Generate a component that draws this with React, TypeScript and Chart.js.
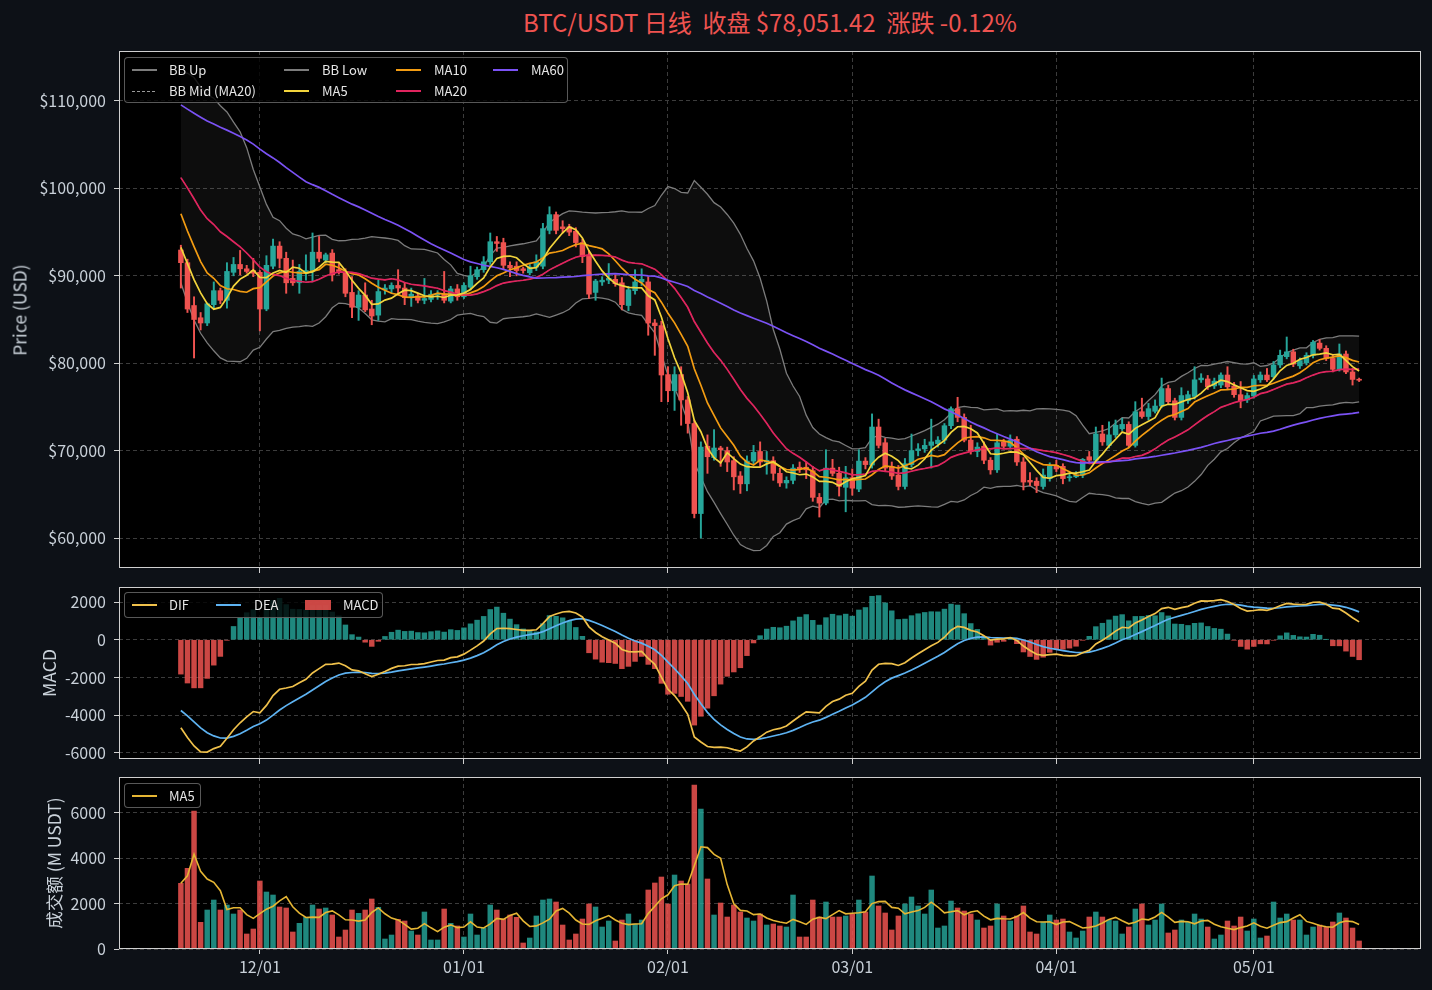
import React, { useEffect, useRef } from "react";
import { Chart, registerables } from "chart.js";
Chart.register(...registerables);

// ---------------- DATA ----------------
// daily closes before the visible window (2025-09-20 .. 2025-11-18), in thousand USD, used for indicator warm-up
const preCloseK = [
  115.7, 115.3, 112.7, 112.0, 113.3, 109.0, 109.7, 109.7, 112.1, 114.4, 114.1,
  118.6, 120.6, 122.3, 122.4, 123.5, 124.7, 121.4, 123.3, 121.7, 113.2, 110.6, 115.2, 115.3, 113.1, 110.8,
  108.2, 106.4, 107.2, 108.6, 110.6, 108.5, 107.6, 110.1, 111.0, 111.6, 114.5, 114.1, 112.9, 110.0, 108.3, 109.5,
  110.0, 110.6, 106.5, 101.5, 103.9, 101.3, 103.3, 102.3, 104.7, 105.9, 103.0, 101.6, 99.7, 94.5, 95.5, 94.2,
  92.2, 92.9,
];

// visible window starts 2025-11-19 (thousand USD)
const openK = [
  92.95, 91.5, 86.6, 85.2, 84.6, 86.7, 88.3, 87.2, 90.4, 91.3, 90.8, 90.6, 90.4, 86.2, 91.1, 93.4, 92.0, 89.7, 89.2, 90.3,
  90.5, 92.7, 91.8, 92.6, 90.7, 90.3, 88.1, 86.4, 87.8, 86.2, 85.5, 88.4, 88.5, 88.9, 88.6, 87.5, 87.7, 87.2, 87.3, 87.8,
  87.9, 87.1, 88.5, 87.6, 88.7, 89.9, 90.7, 91.6, 93.9, 93.8, 91.2, 91.1, 90.8, 90.35, 91.0, 91.1, 95.2, 97.0, 95.6, 95.6,
  95.1, 93.8, 92.4, 88.1, 89.3, 89.5, 89.6, 89.2, 86.6, 88.3, 89.3, 89.3, 84.6, 84.3, 78.7, 76.85, 78.7, 75.8, 73.1, 62.8,
  70.5, 69.2, 70.3, 70.0, 68.85, 67.1, 66.2, 68.8, 69.9, 68.7, 68.85, 67.4, 66.3, 66.6, 68.1, 68.1, 67.7, 64.65, 64.0, 68.0,
  67.4, 65.8, 66.9, 65.6, 68.8, 68.35, 72.7, 70.9, 68.2, 67.2, 65.9, 68.4, 70.0, 70.2, 70.6, 70.8, 71.2, 72.85, 74.8, 73.8,
  71.2, 69.9, 70.5, 68.9, 67.8, 71.0, 70.5, 71.3, 68.7, 66.6, 66.5, 65.9, 66.8, 68.3, 68.2, 66.9, 67.0, 67.2, 69.3, 68.9,
  71.9, 70.6, 71.8, 72.5, 73.0, 70.6, 74.45, 73.9, 74.5, 75.1, 77.1, 75.7, 73.8, 75.7, 76.2, 78.1, 78.2, 77.4, 77.5, 78.65,
  77.4, 76.4, 75.8, 76.25, 78.1, 78.65, 78.45, 79.8, 80.75, 81.3, 79.7, 80.05, 80.9, 82.3, 81.7, 80.55, 79.3, 81.05, 79.0, 78.145,
];
const highK = [
  93.5, 91.9, 87.6, 85.8, 86.9, 89.3, 88.6, 91.5, 92.1, 92.9, 91.2, 92.0, 90.6, 92.3, 94.2, 93.9, 92.7, 91.8, 91.3, 92.4,
  94.9, 94.5, 92.6, 93.0, 91.4, 90.8, 89.9, 88.3, 89.2, 87.2, 89.5, 89.0, 89.2, 90.7, 89.2, 88.6, 88.0, 89.7, 88.3, 88.3,
  90.5, 88.8, 89.0, 89.2, 91.1, 91.0, 92.2, 94.9, 94.5, 94.3, 91.6, 91.6, 91.0, 91.3, 92.4, 96.0, 97.9, 97.3, 96.3, 95.9,
  95.5, 94.2, 92.9, 89.6, 89.9, 91.4, 90.1, 89.8, 88.8, 90.7, 90.8, 89.9, 85.0, 84.8, 79.6, 79.6, 79.6, 76.2, 73.5, 71.0,
  71.8, 72.4, 70.5, 70.4, 69.3, 67.6, 69.4, 70.6, 71.0, 69.9, 69.3, 68.0, 67.0, 68.4, 68.7, 68.7, 68.2, 65.1, 70.1, 69.0,
  68.1, 68.2, 67.9, 70.1, 69.2, 74.2, 73.6, 71.4, 68.7, 68.3, 69.1, 71.9, 70.8, 71.3, 73.6, 71.6, 73.1, 75.0, 76.1, 74.2,
  72.9, 70.9, 71.0, 69.2, 71.9, 71.3, 71.8, 71.6, 69.2, 67.5, 66.9, 67.9, 68.6, 68.9, 68.5, 67.4, 67.6, 69.1, 69.9, 72.7,
  72.9, 73.3, 73.5, 73.7, 73.3, 75.6, 76.0, 75.4, 75.8, 78.3, 77.5, 76.0, 77.2, 76.8, 79.6, 78.8, 78.6, 78.3, 78.9, 79.6,
  77.8, 77.9, 76.6, 78.6, 79.0, 79.4, 80.2, 81.5, 83.0, 81.6, 80.6, 81.2, 82.6, 82.7, 82.0, 80.9, 82.2, 81.4, 79.4, 78.3,
];
const lowK = [
  88.6, 85.8, 80.6, 83.8, 84.3, 86.3, 86.8, 86.3, 90.0, 90.1, 90.3, 89.9, 83.7, 86.0, 90.8, 90.9, 88.0, 88.9, 88.0, 89.5,
  89.4, 91.6, 91.5, 89.4, 90.2, 87.6, 85.2, 84.9, 85.9, 84.4, 84.9, 87.9, 88.0, 87.8, 86.7, 86.5, 86.9, 86.8, 87.0, 87.3,
  86.9, 86.9, 87.2, 87.4, 88.4, 89.6, 90.4, 91.3, 92.8, 90.8, 89.9, 90.0, 90.3, 90.1, 90.6, 90.8, 94.8, 94.8, 94.9, 94.6,
  93.3, 91.5, 87.4, 87.2, 88.9, 89.1, 88.8, 86.1, 86.0, 87.9, 88.9, 83.2, 80.9, 75.6, 75.6, 74.6, 72.9, 72.0, 62.3, 60.0,
  67.4, 68.9, 68.2, 67.6, 65.5, 65.1, 65.4, 68.5, 68.2, 67.3, 66.6, 65.9, 65.7, 66.2, 67.5, 66.8, 64.2, 62.4, 63.8, 67.1,
  64.8, 63.0, 64.9, 65.3, 67.9, 68.0, 70.3, 67.7, 66.7, 65.5, 65.6, 68.1, 69.4, 69.8, 68.0, 70.4, 70.8, 72.5, 73.3, 71.0,
  69.6, 69.3, 68.5, 67.3, 67.5, 70.2, 70.2, 68.3, 65.5, 66.0, 65.2, 65.6, 66.5, 67.6, 66.2, 66.5, 66.9, 66.9, 68.5, 68.6,
  70.6, 70.3, 71.5, 72.3, 70.4, 70.4, 73.7, 73.5, 74.3, 74.9, 75.3, 73.5, 73.5, 75.4, 75.9, 77.8, 77.0, 77.1, 77.2, 77.0,
  76.1, 74.9, 75.5, 76.0, 77.8, 77.9, 78.2, 79.5, 80.5, 79.6, 79.4, 79.8, 80.6, 81.5, 80.3, 79.0, 79.1, 78.8, 77.5, 77.9,
];
const closeK = [
  91.5, 86.2, 85.0, 84.6, 86.8, 88.3, 87.2, 90.5, 91.3, 90.8, 90.5, 90.3, 86.2, 91.2, 93.4, 92.0, 89.2, 89.2, 90.5, 90.6,
  92.7, 92.0, 92.4, 90.1, 90.5, 88.0, 86.4, 87.8, 86.1, 85.4, 88.2, 88.6, 88.9, 88.6, 87.5, 87.9, 87.2, 87.4, 87.9, 87.9,
  87.2, 88.5, 87.6, 88.9, 90.0, 90.7, 91.6, 93.9, 93.7, 91.2, 90.9, 90.6, 90.6, 91.0, 91.6, 95.4, 97.0, 95.2, 95.4, 95.0,
  93.8, 92.2, 87.9, 89.4, 89.5, 89.7, 89.1, 86.7, 88.4, 89.3, 89.6, 84.6, 84.3, 78.65, 76.85, 78.7, 75.8, 73.1, 62.8, 70.4,
  69.3, 70.3, 70.1, 68.7, 67.0, 66.2, 68.8, 69.8, 68.7, 68.9, 67.4, 66.3, 66.6, 68.0, 67.9, 67.8, 64.65, 64.0, 68.0, 67.4,
  65.9, 66.9, 65.7, 68.8, 68.4, 72.7, 70.6, 68.0, 67.1, 65.9, 68.5, 70.0, 70.2, 70.6, 71.0, 71.2, 72.85, 74.8, 73.8, 71.2,
  69.9, 70.4, 68.9, 67.8, 70.9, 70.5, 71.2, 68.7, 66.4, 66.4, 66.0, 67.2, 68.2, 67.9, 66.8, 67.0, 67.2, 69.0, 68.9, 71.9,
  71.0, 71.8, 72.9, 73.0, 70.6, 74.45, 73.9, 74.8, 75.1, 77.1, 75.6, 73.8, 76.3, 76.4, 78.1, 78.3, 77.3, 77.95, 78.65, 77.3,
  76.4, 75.7, 76.3, 78.2, 78.65, 78.1, 79.8, 80.9, 81.3, 79.9, 80.3, 80.9, 82.4, 81.7, 80.55, 79.3, 81.05, 79.0, 78.145, 78.05142,
];
// turnover, million USDT
const volumeM = [
  2898, 3560, 6087, 1176, 1720, 2161, 1720, 1941, 1544, 1720, 662, 882, 3000, 2514, 2382, 1853, 1809, 750, 1132, 1397,
  1941, 1764, 1809, 1500, 529, 838, 1720, 1573, 1720, 2206, 1838, 441, 617, 1308, 1235, 794, 617, 1632, 397, 397,
  1764, 1132, 1015, 529, 1544, 617, 926, 1941, 1720, 1323, 1500, 1397, 265, 485, 1456, 2161, 2206, 2073, 1058, 397,
  662, 1323, 1985, 1853, 970, 1235, 353, 1279, 1544, 1103, 1279, 2603, 2912, 3176, 1985, 3264, 3000, 2867, 7234, 6176,
  3088, 1500, 2029, 1411, 1941, 1632, 1367, 1235, 1544, 1058, 1103, 1015, 970, 2382, 529, 529, 2161, 1411, 2073, 1411,
  1411, 1456, 1544, 2161, 1632, 3220, 1897, 1588, 838, 1456, 1985, 2294, 1897, 1544, 2603, 926, 1015, 2117, 1809, 1676,
  1544, 1279, 926, 1015, 1985, 1456, 1235, 1456, 1897, 750, 662, 1191, 1500, 1279, 1323, 750, 485, 794, 1411, 1632,
  1411, 1279, 1235, 662, 970, 1764, 1985, 1058, 1279, 1985, 706, 838, 1279, 1191, 1544, 1323, 970, 441, 617, 1235,
  1015, 1411, 794, 1323, 485, 573, 2073, 1367, 1544, 1279, 1279, 617, 970, 1058, 970, 1191, 1588, 1367, 926, 353,
];
const priceTicks = [60000, 70000, 80000, 90000, 100000, 110000];
const macdTicks = [-6000, -4000, -2000, 0, 2000];
const volTicks = [0, 2000, 4000, 6000];

// ---------------- DERIVED ----------------
const N = closeK.length;
const P = preCloseK.length;
const allClose = [...preCloseK, ...closeK].map((v) => v * 1000);
const open = openK.map((v) => v * 1000);
const high = highK.map((v) => v * 1000);
const low = lowK.map((v) => v * 1000);
const close = closeK.map((v) => v * 1000);

const dates = Array.from({ length: N }, (_, i) => new Date(Date.UTC(2025, 10, 19 + i)));
const monthTicks = dates.map((d, i) => (d.getUTCDate() === 1 ? i : -1)).filter((i) => i >= 0);
const fmtMD = (i: number) => {
  const d = dates[i];
  if (!d) return "";
  return String(d.getUTCMonth() + 1).padStart(2, "0") + "/" + String(d.getUTCDate()).padStart(2, "0");
};

function sma(arr: number[], n: number, end: number) {
  let s = 0;
  for (let k = end - n + 1; k <= end; k++) s += arr[k];
  return s / n;
}
function std(arr: number[], n: number, end: number) {
  const m = sma(arr, n, end);
  let s = 0;
  for (let k = end - n + 1; k <= end; k++) s += (arr[k] - m) ** 2;
  return Math.sqrt(s / (n - 1));
}
function ema(arr: number[], span: number) {
  const a = 2 / (span + 1);
  const out: number[] = [];
  arr.forEach((v, i) => out.push(i === 0 ? v : a * v + (1 - a) * out[i - 1]));
  return out;
}
const idx = Array.from({ length: N }, (_, i) => i);
const ma5 = idx.map((i) => sma(allClose, 5, P + i));
const ma10 = idx.map((i) => sma(allClose, 10, P + i));
const ma20 = idx.map((i) => sma(allClose, 20, P + i));
const ma60 = idx.map((i) => sma(allClose, 60, P + i));
const bbUp = idx.map((i) => ma20[i] + 2 * std(allClose, 20, P + i));
const bbLow = idx.map((i) => ma20[i] - 2 * std(allClose, 20, P + i));
const e12 = ema(allClose, 12);
const e26 = ema(allClose, 26);
const difAll = e12.map((v, i) => v - e26[i]);
const deaAll = ema(difAll, 9);
const dif = idx.map((i) => difAll[P + i]);
const dea = idx.map((i) => deaAll[P + i]);
const hist = idx.map((i) => 2 * (dif[i] - dea[i]));
const volMa5 = idx.map((i) => {
  const s = volumeM.slice(Math.max(0, i - 4), i + 1);
  return s.reduce((a, b) => a + b, 0) / s.length;
});
const lastClose = close[N - 1];
const changePct = (close[N - 1] / close[N - 2] - 1) * 100;

// ---------------- STYLE ----------------
const FONT = "'Noto Sans CJK SC', 'Noto Sans', sans-serif";
const PAGE_BG = "#0d1117";
const TEXT = "#c9d1d9";
const GRID = "#3c3c3c";
const FRAME = "#d0d0d0";
const UP = "#26a69a";
const DOWN = "#ef5350";
const UP_A = "rgba(38,166,154,0.82)";
const DOWN_A = "rgba(239,83,80,0.85)";
const C_BB = "#7c7c7c";
const C_MA5 = "#f2d43c";
const C_MA10 = "#f39c12";
const C_MA20 = "#e0245e";
const C_MA60 = "#7b52f5";
const C_DIF = "#f0c14b";
const C_DEA = "#5eb3f2";
const C_VMA = "#e6b634";
const X_MIN = -9.4;
const X_MAX = 188.4;
const W = 1432;

const isUp = idx.map((i) => close[i] >= open[i]);
const pts = (arr: number[]) => arr.map((v, i) => ({ x: i, y: v }));

const framePlugin = {
  id: "frame",
  beforeDraw(chart: any) {
    const { ctx, chartArea: a } = chart;
    ctx.save();
    ctx.fillStyle = "#000";
    ctx.fillRect(a.left, a.top, a.right - a.left, a.bottom - a.top);
    ctx.restore();
  },
  afterDraw(chart: any) {
    const { ctx, chartArea: a } = chart;
    ctx.save();
    ctx.strokeStyle = FRAME;
    ctx.lineWidth = 1;
    ctx.strokeRect(a.left + 0.5, a.top + 0.5, a.right - a.left - 1, a.bottom - a.top - 1);
    ctx.restore();
  },
};

function xScale(showLabels: boolean, h: number) {
  return {
    type: "linear",
    min: X_MIN,
    max: X_MAX,
    offset: false,
    afterBuildTicks: (s: any) => {
      s.ticks = monthTicks.map((v) => ({ value: v }));
    },
    afterFit: (s: any) => {
      s.height = h;
      s.paddingLeft = 0;
      s.paddingRight = 0;
    },
    grid: { color: GRID, lineWidth: 1, offset: false, drawTicks: true, tickLength: 5, tickColor: FRAME, tickWidth: 1, tickBorderDash: [] },
    border: { display: false, dash: [4, 3] },
    ticks: {
      display: showLabels,
      autoSkip: false,
      maxRotation: 0,
      color: TEXT,
      padding: 3,
      font: { family: FONT, size: 16 },
      callback: (v: number) => fmtMD(Math.round(v)),
    },
  };
}
function yScale(min: number, max: number, ticks: number[], fmt: (v: number) => string) {
  return {
    type: "linear",
    position: "left",
    min,
    max,
    afterBuildTicks: (s: any) => {
      s.ticks = ticks.map((v) => ({ value: v }));
    },
    afterFit: (s: any) => {
      s.width = 119;
      s.paddingTop = 0;
      s.paddingBottom = 0;
    },
    grid: { color: GRID, lineWidth: 1, drawTicks: true, tickLength: 5, tickColor: FRAME, tickWidth: 1, tickBorderDash: [] },
    border: { display: false, dash: [4, 3] },
    ticks: { color: TEXT, padding: 8, font: { family: FONT, size: 16 }, callback: (v: number) => fmt(v) },
  };
}
function baseOptions(padTop: number, scales: any) {
  return {
    responsive: false,
    animation: false,
    events: [],
    layout: { padding: { left: 0, right: 11, top: padTop, bottom: 0 } },
    plugins: { legend: { display: false }, tooltip: { enabled: false }, title: { display: false } },
    scales,
  };
}
const lineDs = (label: string, data: number[], color: string, width: number, order: number, extra: any = {}) => ({
  type: "line",
  label,
  data: pts(data),
  borderColor: color,
  borderWidth: width,
  pointRadius: 0,
  tension: 0,
  fill: false,
  order,
  ...extra,
});

function useChart(ref: React.RefObject<HTMLCanvasElement>, build: () => any) {
  useEffect(() => {
    if (!ref.current) return;
    const chart = new Chart(ref.current, build());
    return () => chart.destroy();
  }, []);
}

function PriceChart() {
  const ref = useRef<HTMLCanvasElement>(null);
  useChart(ref, () => ({
    type: "bar",
    data: {
      datasets: [
        lineDs("BB Up", bbUp, C_BB, 1.3, 5),
        lineDs("BB Low", bbLow, C_BB, 1.3, 5, { fill: "-1", backgroundColor: "rgba(255,255,255,0.05)" }),
        lineDs("BB Mid (MA20)", ma20, "rgba(160,160,160,0.7)", 1, 4, { borderDash: [3, 2] }),
        {
          type: "bar",
          label: "wick",
          data: idx.map((i) => ({ x: i, y: [low[i], high[i]] })),
          backgroundColor: idx.map((i) => (isUp[i] ? UP : DOWN)),
          barThickness: 1.3,
          grouped: false,
          borderWidth: 0,
          order: 3,
        },
        {
          type: "bar",
          label: "body",
          data: idx.map((i) => ({ x: i, y: [open[i], close[i]] })),
          backgroundColor: idx.map((i) => (isUp[i] ? UP : DOWN)),
          barThickness: 4.8,
          minBarLength: 1,
          grouped: false,
          borderWidth: 0,
          order: 2,
        },
        lineDs("MA60", ma60, C_MA60, 1.7, 1),
        lineDs("MA20", ma20, C_MA20, 1.7, 1),
        lineDs("MA10", ma10, C_MA10, 1.7, 1),
        lineDs("MA5", ma5, C_MA5, 1.7, 0),
      ],
    },
    options: baseOptions(51, {
      x: xScale(false, 12),
      y: yScale(56570, 115720, priceTicks, (v) => "$" + v.toLocaleString("en-US")),
    }),
    plugins: [framePlugin],
  }));
  return <canvas ref={ref} width={W} height={580} style={{ position: "absolute", left: 0, top: 0, width: W, height: 580 }} />;
}

function MacdChart() {
  const ref = useRef<HTMLCanvasElement>(null);
  useChart(ref, () => ({
    type: "bar",
    data: {
      datasets: [
        {
          type: "bar",
          label: "MACD",
          data: pts(hist),
          backgroundColor: hist.map((v) => (v >= 0 ? UP_A : DOWN_A)),
          barThickness: 4.8,
          grouped: false,
          borderWidth: 0,
          order: 2,
        },
        lineDs("DEA", dea, C_DEA, 1.7, 1),
        lineDs("DIF", dif, C_DIF, 1.7, 0),
      ],
    },
    options: baseOptions(7, {
      x: xScale(false, 11),
      y: yScale(-6318, 2795, macdTicks, (v) => String(v)),
    }),
    plugins: [framePlugin],
  }));
  return <canvas ref={ref} width={W} height={190} style={{ position: "absolute", left: 0, top: 580, width: W, height: 190 }} />;
}

function VolumeChart() {
  const ref = useRef<HTMLCanvasElement>(null);
  useChart(ref, () => ({
    type: "bar",
    data: {
      datasets: [
        {
          type: "bar",
          label: "Volume",
          data: pts(volumeM),
          backgroundColor: idx.map((i) => (isUp[i] ? UP_A : DOWN_A)),
          barThickness: 4.8,
          grouped: false,
          borderWidth: 0,
          order: 2,
        },
        lineDs("MA5", volMa5, C_VMA, 1.6, 0),
      ],
    },
    options: baseOptions(7, {
      x: xScale(true, 41),
      y: yScale(0, 7588, volTicks, (v) => String(v)),
    }),
    plugins: [framePlugin],
  }));
  return <canvas ref={ref} width={W} height={220} style={{ position: "absolute", left: 0, top: 770, width: W, height: 220 }} />;
}

type LegItem = { kind: "line" | "dash" | "patch"; color: string; label: string; lx: number; tx: number; y: number };
function Legend({ left, top, width, height, items }: { left: number; top: number; width: number; height: number; items: LegItem[] }) {
  return (
    <div
      style={{
        position: "absolute",
        left,
        top,
        width,
        height,
        boxSizing: "border-box",
        border: "1px solid rgba(110,110,110,0.8)",
        borderRadius: 4,
        background: "rgba(0,0,0,0.8)",
      }}
    >
      {items.map((it, k) => (
        <React.Fragment key={k}>
          {it.kind === "patch" ? (
            <div style={{ position: "absolute", left: it.lx, top: it.y - 5, width: 26, height: 10, background: it.color }} />
          ) : it.kind === "dash" ? (
            <div
              style={{
                position: "absolute",
                left: it.lx,
                top: it.y,
                width: 25,
                height: 1,
                backgroundImage: `repeating-linear-gradient(90deg, ${it.color} 0 3px, transparent 3px 5px)`,
              }}
            />
          ) : (
            <div style={{ position: "absolute", left: it.lx, top: it.y - 1, width: 25, height: 2, background: it.color }} />
          )}
          <div
            style={{
              position: "absolute",
              left: it.tx,
              top: it.y - 10,
              height: 20,
              lineHeight: "20px",
              fontFamily: FONT,
              fontSize: 13,
              color: "#e6e6e6",
              whiteSpace: "pre",
            }}
          >
            {it.label}
          </div>
        </React.Fragment>
      ))}
    </div>
  );
}

function AxisTitle({ text, x, y }: { text: string; x: number; y: number }) {
  return (
    <div
      style={{
        position: "absolute",
        left: x,
        top: y,
        transform: "translate(-50%, -50%) rotate(-90deg)",
        fontFamily: FONT,
        fontSize: 17.5,
        color: TEXT,
        whiteSpace: "pre",
      }}
    >
      {text}
    </div>
  );
}

export default function App() {
  const title =
    "BTC/USDT 日线  收盘 $" +
    lastClose.toLocaleString("en-US", { minimumFractionDigits: 2, maximumFractionDigits: 2 }) +
    "  涨跌 " +
    (changePct >= 0 ? "+" : "") +
    changePct.toFixed(2) +
    "%";
  return (
    <div style={{ position: "fixed", left: 0, top: 0, width: W, height: 990, background: PAGE_BG, overflow: "hidden" }}>
      <div
        style={{
          position: "absolute",
          left: 770,
          top: 21,
          transform: "translate(-50%, -50%)",
          fontFamily: FONT,
          fontSize: 24,
          color: changePct >= 0 ? UP : DOWN,
          whiteSpace: "pre",
        }}
      >
        {title}
      </div>
      <PriceChart />
      <MacdChart />
      <VolumeChart />
      <Legend
        left={124}
        top={57}
        width={444}
        height={46}
        items={[
          { kind: "line", color: C_BB, label: "BB Up", lx: 7, tx: 44, y: 12 },
          { kind: "dash", color: "rgba(170,170,170,0.9)", label: "BB Mid (MA20)", lx: 7, tx: 44, y: 33 },
          { kind: "line", color: C_BB, label: "BB Low", lx: 159, tx: 197, y: 12 },
          { kind: "line", color: C_MA5, label: "MA5", lx: 159, tx: 197, y: 33 },
          { kind: "line", color: C_MA10, label: "MA10", lx: 271, tx: 309, y: 12 },
          { kind: "line", color: C_MA20, label: "MA20", lx: 271, tx: 309, y: 33 },
          { kind: "line", color: C_MA60, label: "MA60", lx: 368, tx: 406, y: 12 },
        ]}
      />
      <Legend
        left={124}
        top={592}
        width={259}
        height={26}
        items={[
          { kind: "line", color: C_DIF, label: "DIF", lx: 7, tx: 44, y: 12 },
          { kind: "line", color: C_DEA, label: "DEA", lx: 91, tx: 129, y: 12 },
          { kind: "patch", color: DOWN_A, label: "MACD", lx: 180, tx: 218, y: 12 },
        ]}
      />
      <Legend
        left={124}
        top={783}
        width={77}
        height={25}
        items={[{ kind: "line", color: C_VMA, label: "MA5", lx: 7, tx: 44, y: 12 }]}
      />
      <AxisTitle text="Price (USD)" x={19} y={310} />
      <AxisTitle text="MACD" x={48} y={673} />
      <AxisTitle text="成交额 (M USDT)" x={53} y={863} />
    </div>
  );
}
